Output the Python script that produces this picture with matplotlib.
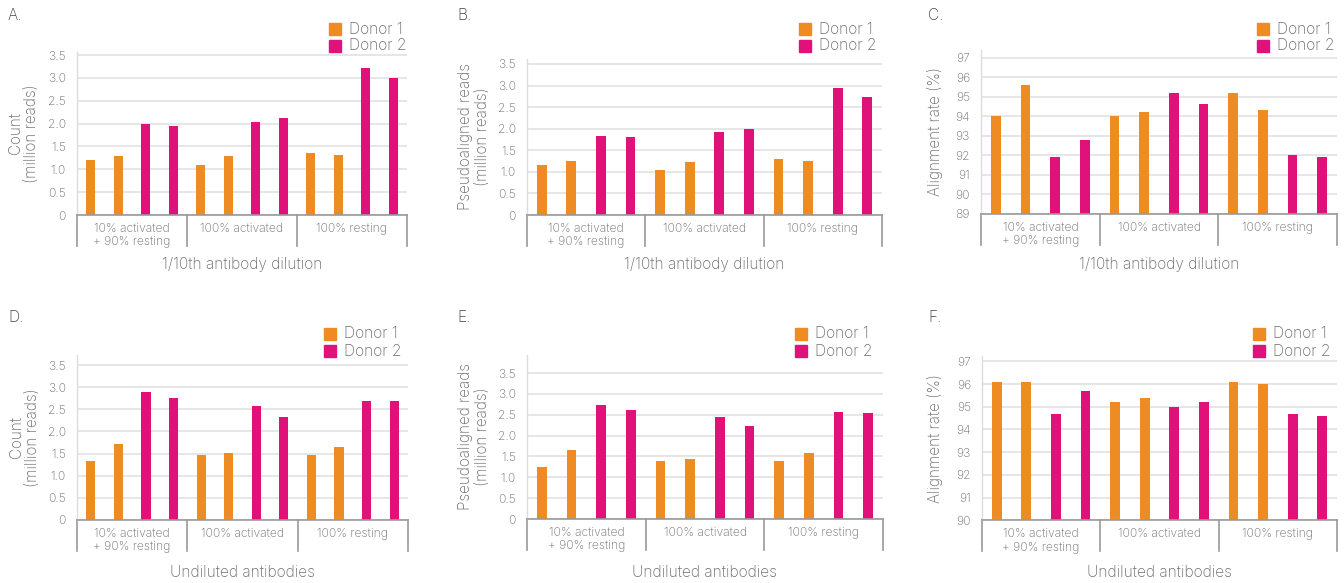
import matplotlib
matplotlib.use("Agg")
import matplotlib.pyplot as plt
from matplotlib.patches import Rectangle

plt.rcParams['font.family'] = ['Inter', 'DejaVu Sans']
plt.rcParams['font.weight'] = 'light'

W, H = 1344, 583
TXT = '#6e6e6e'
ORANGE = '#EE8B22'
PINK = '#E0127A'

groups = ["10% activated\n+ 90% resting", "100% activated", "100% resting"]
legend_labels = ["Donor 1", "Donor 2"]

# each group: donor1 rep1, donor1 rep2 / donor2 rep1, donor2 rep2
a_d1 = [1.20, 1.30, 1.10, 1.30, 1.36, 1.32]
a_d2 = [2.00, 1.95, 2.04, 2.12, 3.22, 3.00]
b_d1 = [1.16, 1.25, 1.05, 1.23, 1.30, 1.25]
b_d2 = [1.84, 1.81, 1.93, 2.00, 2.95, 2.74]
c_d1 = [94.0, 95.6, 94.0, 94.2, 95.2, 94.3]
c_d2 = [91.9, 92.8, 95.2, 94.6, 92.0, 91.9]
d_d1 = [1.33, 1.72, 1.47, 1.51, 1.47, 1.65]
d_d2 = [2.89, 2.76, 2.58, 2.33, 2.69, 2.69]
e_d1 = [1.25, 1.66, 1.39, 1.44, 1.39, 1.59]
e_d2 = [2.74, 2.62, 2.45, 2.23, 2.57, 2.55]
f_d1 = [96.1, 96.1, 95.2, 95.4, 96.1, 96.0]
f_d2 = [94.7, 95.7, 95.0, 95.2, 94.7, 94.6]

count_ticks = [0, 0.5, 1.0, 1.5, 2.0, 2.5, 3.0, 3.5]
count_labels = ["0", "0.5", "1.0", "1.5", "2.0", "2.5", "3.0", "3.5"]
alignC_ticks = [89, 90, 91, 92, 93, 94, 95, 96, 97]
alignF_ticks = [90, 91, 92, 93, 94, 95, 96, 97]

panels = [
    dict(letter="A.", d1=a_d1, d2=a_d2, ticks=count_ticks, labels=count_labels,
         ylabel="Count\n(million reads)", xlabel="1/10th antibody dilution",
         l=77, r=407, yb=215, yt=55, st=52, ylx=23.5, lx=8, ly=15, legx=329, legy=29, xly=265),
    dict(letter="B.", d1=b_d1, d2=b_d2, ticks=count_ticks, labels=count_labels,
         ylabel="Pseudoaligned reads\n(million reads)", xlabel="1/10th antibody dilution",
         l=527, r=882, yb=215, yt=64, st=59, ylx=474, lx=457, ly=15, legx=799, legy=29, xly=265),
    dict(letter="C.", d1=c_d1, d2=c_d2, ticks=alignC_ticks, labels=[str(t) for t in alignC_ticks],
         ylabel="Alignment rate (%)", xlabel="1/10th antibody dilution",
         l=981, r=1337, yb=213.7, yt=57.7, st=50, ylx=935, lx=928, ly=15, legx=1257, legy=29, xly=265),
    dict(letter="D.", d1=d_d1, d2=d_d2, ticks=count_ticks, labels=count_labels,
         ylabel="Count\n(million reads)", xlabel="Undiluted antibodies",
         l=77, r=408, yb=519.7, yt=365.3, st=355, ylx=24.5, lx=8, ly=318, legx=324, legy=334, xly=572),
    dict(letter="E.", d1=e_d1, d2=e_d2, ticks=count_ticks, labels=count_labels,
         ylabel="Pseudoaligned reads\n(million reads)", xlabel="Undiluted antibodies",
         l=527, r=883, yb=519, yt=373, st=355, ylx=474, lx=457, ly=318, legx=795, legy=334, xly=572),
    dict(letter="F.", d1=f_d1, d2=f_d2, ticks=alignF_ticks, labels=[str(t) for t in alignF_ticks],
         ylabel="Alignment rate (%)", xlabel="Undiluted antibodies",
         l=982, r=1337, yb=520.3, yt=361.3, st=356, ylx=935, lx=928, ly=318, legx=1253, legy=334, xly=572),
]

fig = plt.figure(figsize=(W / 100, H / 100), dpi=100)

def fx(px):
    return px / W

def fy(py):
    return 1 - py / H

for p in panels:
    ax = fig.add_axes([fx(p['l']), fy(p['yb']), fx(p['r'] - p['l']), (p['yb'] - p['st']) / H])
    ymin, ymaxt = p['ticks'][0], p['ticks'][-1]
    ytop = ymin + (ymaxt - ymin) * (p['yb'] - p['st']) / (p['yb'] - p['yt'])
    vals, cols = [], []
    for g in range(3):
        vals += [p['d1'][2 * g], p['d1'][2 * g + 1], p['d2'][2 * g], p['d2'][2 * g + 1]]
        cols += [ORANGE, ORANGE, PINK, PINK]
    xs = [i + 0.5 for i in range(12)]
    ax.bar(xs, [v - ymin for v in vals], bottom=ymin, width=0.33, color=cols, zorder=3)
    ax.set_xlim(0, 12)
    ax.set_ylim(ymin, ytop)
    ax.set_yticks(p['ticks'])
    ax.set_yticklabels(p['labels'])
    ax.set_xticks([])
    ax.grid(axis='y', color='#e2e2e2', lw=1.2, zorder=0)
    ax.tick_params(axis='y', length=0, pad=8, labelsize=8.7, labelcolor=TXT)
    for s in ['top', 'right']:
        ax.spines[s].set_visible(False)
    ax.spines['left'].set_color('#dddddd')
    ax.spines['left'].set_linewidth(1.0)
    ax.spines['bottom'].set_color('#999999')
    ax.spines['bottom'].set_linewidth(1.2)
    ax.spines['bottom'].set_zorder(4)
    hpx = p['yb'] - p['st']
    drop = -31 / hpx
    trans = ax.get_xaxis_transform()
    for xb in [0, 4, 8, 12]:
        ax.plot([xb, xb], [0, drop], transform=trans, color='#999999', lw=1.2, clip_on=False)
    for g, lab in enumerate(groups):
        ax.text(4 * g + 2, -8 / hpx, lab, transform=trans, ha='center', va='top',
                fontsize=8.7, color=TXT, linespacing=1.15)
    # axis titles
    fig.text(fx(p['ylx']), fy((p['yb'] + p['st']) / 2), p['ylabel'], rotation=90,
             ha='center', va='center', fontsize=11, color=TXT, linespacing=1.15,
             multialignment='center')
    fig.text(fx((p['l'] + p['r']) / 2), fy(p['xly']), p['xlabel'], ha='center', va='center',
             fontsize=11.2, color=TXT)
    fig.text(fx(p['lx']), fy(p['ly']), p['letter'], ha='left', va='center', fontsize=11.2, color='#444444')
    # legend
    for k, (lab, c) in enumerate(zip(legend_labels, [ORANGE, PINK])):
        cy = p['legy'] + 17 * k
        fig.patches.append(Rectangle((fx(p['legx']), fy(cy + 6)), fx(12), 12 / H,
                                     transform=fig.transFigure, color=c, figure=fig))
        fig.text(fx(p['legx'] + 20), fy(cy), lab, ha='left', va='center', fontsize=11.2, color=TXT)

fig.savefig("out.png", dpi=100, facecolor='white')
